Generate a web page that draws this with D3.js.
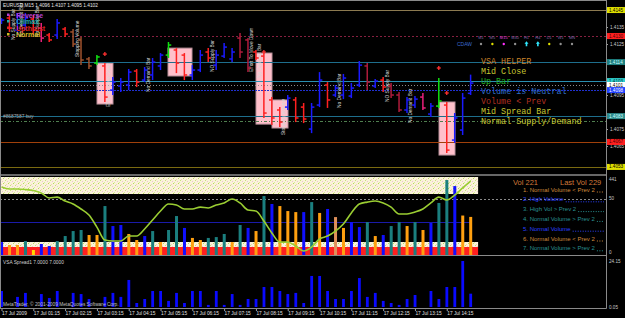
<!DOCTYPE html>
<html>
<head>
<meta charset="utf-8">
<script src="https://cdn.jsdelivr.net/npm/d3@7"></script>
<style>
  body { margin: 0; background: #000; }
  svg { display: block; }
  text { font-family: "Liberation Sans", Arial, sans-serif; }
</style>
</head>
<body>
<div id="my_chart"></div>
<script>

// EURUSD M15 price bars, 17 Jul 2009 (60 bars)
var barOpen = [1.41379,1.41403,1.41332,1.41362,1.41397,1.41344,1.41303,1.41303,1.41338,1.41321,
  1.41274,1.41162,1.41138,1.41121,1.40979,1.41003,1.41009,1.41091,1.41038,1.41068,
  1.41121,1.41185,1.41215,1.41185,1.41068,1.41097,1.41203,1.41126,1.41179,1.41162,
  1.41285,1.41274,1.41203,1.41179,1.40921,1.40862,1.40879,1.40921,1.40879,1.40750,
  1.40891,1.41009,1.40950,1.40950,1.40944,1.41009,1.41121,1.41003,1.41038,1.41003,
  1.40950,1.40862,1.40891,1.40938,1.40838,1.40885,1.40891,1.40685,1.40744,1.40960];
var barHigh = [1.41403,1.41421,1.41432,1.41432,1.41421,1.41374,1.41315,1.41397,1.41350,1.41338,
  1.41291,1.41174,1.41185,1.41138,1.41056,1.41050,1.41103,1.41103,1.41115,1.41168,
  1.41197,1.41262,1.41226,1.41197,1.41126,1.41215,1.41226,1.41215,1.41256,1.41226,
  1.41315,1.41285,1.41215,1.41197,1.40938,1.40879,1.40950,1.40938,1.40903,1.40903,
  1.41085,1.41026,1.41009,1.41074,1.41021,1.41150,1.41138,1.41044,1.41056,1.41021,
  1.40968,1.40938,1.40944,1.40962,1.40903,1.41050,1.40909,1.40844,1.40962,1.41070];
var barLow = [1.41368,1.41321,1.41303,1.41332,1.41303,1.41262,1.41262,1.41279,1.41291,1.41232,
  1.41126,1.41103,1.41126,1.40909,1.40950,1.40968,1.40979,1.40997,1.41026,1.41038,
  1.41097,1.41168,1.41079,1.41038,1.41038,1.41085,1.41144,1.41097,1.41168,1.41144,
  1.41168,1.41085,1.41156,1.40815,1.40774,1.40762,1.40862,1.40791,1.40785,1.40726,
  1.40879,1.40874,1.40938,1.40926,1.40932,1.40997,1.40979,1.40991,1.40968,1.40932,
  1.40850,1.40844,1.40874,1.40862,1.40821,1.40874,1.40609,1.40668,1.40715,1.40950];
var barClose = [1.41391,1.41344,1.41415,1.41403,1.41332,1.41285,1.41274,1.41374,1.41309,1.41250,
  1.41156,1.41121,1.41174,1.40938,1.41026,1.41026,1.41085,1.41026,1.41097,1.41144,
  1.41185,1.41244,1.41138,1.41068,1.41097,1.41185,1.41168,1.41185,1.41232,1.41203,
  1.41203,1.41109,1.41168,1.40844,1.40815,1.40791,1.40932,1.40815,1.40809,1.40879,
  1.41038,1.40921,1.40991,1.41050,1.40991,1.41126,1.41026,1.41032,1.40997,1.40950,
  1.40862,1.40921,1.40926,1.40874,1.40885,1.40915,1.40626,1.40815,1.40932,1.41020];
var barKind = ["up","dn","up","up","dn","mg","dn","up","dn","br",
  "br","br","gr","dn","up","up","up","dn","up","up",
  "up","gr","dn","dn","up","up","dn","up","up","up",
  "dr","dr","dn","dn","dn","dn","up","dn","dn","up",
  "up","dn","up","up","up","up","dr","up","dn","dr",
  "dr","up","up","mg","up","gr","dn","up","up","up"];

// tick volume and its class
var volume = [75,58,58,81,29,64,52,81,110,139,
  145,116,116,284,168,174,122,87,110,139,
  75,145,226,157,99,87,99,104,122,75,
  174,157,139,342,296,284,255,249,249,307,
  244,267,220,157,191,162,191,110,116,168,
  191,168,191,145,186,302,435,400,229,221];
var volKind = ["nv","lo","lo","hi","yl","nv","nv","hi","hi","hi",
  "hi","lo","lo","hi","nv","nv","lo","lo","nv","hi",
  "lo","hi","hi","nv","lo","lo","hi","hi","hi","lo",
  "hi","nv","lo","hi","nv","lo","lo","lo","nv","hi",
  "lo","nv","pe","lo","nv","nv","hi","lo","nv","hi",
  "hi","lo","hi","lo","nv","hi","hi","nv","lo","lo"];
// smoothed oscillator drawn over the volume pane (pane units)
var volLine = [394,383,383,380,374,360,331,336,313,296,
  267,232,162,87,81,81,110,110,151,203,
  255,296,290,267,267,278,273,290,302,325,
  302,261,255,197,128,75,75,52,23,46,
  93,110,139,180,244,296,307,313,302,278,
  238,238,249,267,302,336,319,348,389,429];
var volAverage = 191, volLevel = 325;

// VSA spread (pips)
var spread = [8.4,0,5.3,7.4,0,6.8,4.7,8.4,0,7.4,
  6.8,4.2,0,5.3,7.4,5.3,14.2,2.1,4.2,8.4,
  8.4,3.2,7.4,2.1,8.4,8.4,1.1,8.4,1.1,6.8,
  1.1,4.2,4.2,10.5,10.5,8.4,6.8,7.4,2.1,16.3,
  16.3,8.4,4.2,4.2,8.4,15.2,5.3,7.4,3.2,2.1,
  1.1,4.2,6.3,0,8.4,4.2,10.5,10.5,24.15,7.0];

// horizontal levels on the price pane
var levelPrice = [1.41450, 1.41297, 1.41144, 1.41032, 1.41009, 1.40979, 1.40826, 1.40797, 1.40674, 1.40527];
var levelKind = ["tan","res","teal","cyan","bid","blue","teal2","order","orange","olive"];

// signal boxes (bar range, price top / bottom)
var boxStart = [13, 22, 33, 35, 56];
var boxEnd = [13, 23, 33, 35, 56];
var boxTop = [1.41138, 1.41226, 1.41197, 1.40921, 1.40909];
var boxBottom = [1.40897, 1.41062, 1.40779, 1.40756, 1.40597];

// vertical bar notes
var noteBar = [1, 2, 4, 9, 13, 18, 26, 31, 32, 35, 42, 48, 51];
var notePrice = [1.41274, 1.41291, 1.41291, 1.41174, 1.40879, 1.40968, 1.41085, 1.41085, 1.41050, 1.40715, 1.40874, 1.40909, 1.40785];
var noteText = ["No Supply Bar","No Demand Bar","No Supply Bar","Stopping Volume","Effort To Move Down",
  "No Demand Bar","NO Supply Bar","Effort To Move Down","No Demand Bar","Stopping Volume",
  "No Demand Bar","NO Supply Bar","No Demand Bar"];

// red cross markers
var markBar = [13, 33, 55, 56];
var markPrice = [1.41191, 1.41203, 1.41109, 1.40962];

var legendNames = ["Reverse", "Climax", "Upthrust", "Normal"];
var helperLines = ["VSA HELPER", "Mid Close", "Up Bar", "Volume is Neutral", "Volume < Prev", "Mid Spread Bar", "Normal Supply/Demand"];
var periods = ["M1","M5","M15","M30","H1","H4","D1","W1","MN"];
var periodState = ["flat","up","dn","flat","strong","strong","up","flat","flat"];
var volNotes = ["1. Normal Volume < Prev 2", "2. High Volume", "3. High Vol > Prev 2",
  "4. Normal Volume > Prev 2", "5. Normal Volume", "6. Normal Volume < Prev 2", "7. Normal Volume > Prev 2"];
var volNoteKind = ["lo","nv","hi","hi","nv","lo","hi"];
var priceTicks = [1.4135, 1.4125, 1.4095, 1.4075, 1.4065];
var timeBars = [0,4,8,12,16,20,24,28,32,36,40,44,48,52,56];
var timeLabels = ["17 Jul 2009","17 Jul 01:15","17 Jul 02:15","17 Jul 03:15","17 Jul 04:15",
  "17 Jul 05:15","17 Jul 06:15","17 Jul 07:15","17 Jul 08:15","17 Jul 09:15",
  "17 Jul 10:15","17 Jul 11:15","17 Jul 12:15","17 Jul 13:15","17 Jul 14:15"];

// styles
var barColor = {up:"#1a1aff", dn:"#ff2020", br:"#a0522d", dr:"#b01c3c", mg:"#e8207a", gr:"#10e010"};
var volColor = {hi:"#1b7f7f", nv:"#1010ff", lo:"#ffa010", yl:"#ffd700", pe:"#e0905a"};
var noteColor = {hi:"#2a9090", nv:"#2a40ff", lo:"#d08a3c"};
var levelStyle = {
  tan:   {stroke:"#8c7a50", dash:null,      box:"#e0e000", ink:"#000"},
  res:   {stroke:"#862040", dash:"2,2",     box:"#ff2020", ink:"#400"},
  teal:  {stroke:"#1e6e8c", dash:null,      box:"#1f8080", ink:"#cff"},
  cyan:  {stroke:"#2a8fb0", dash:null,      box:"#30d0d0", ink:"#033"},
  bid:   {stroke:"#8a8a8a", dash:"1,2",     box:"#ffffff", ink:"#000"},
  blue:  {stroke:"#2030d0", dash:"2,1",     box:"#2040ff", ink:"#fff"},
  teal2: {stroke:"#1e6e8c", dash:null,      box:"#2e8b8b", ink:"#cff"},
  order: {stroke:"#4f7f4f", dash:"3,2,1,2", box:null,      ink:null},
  orange:{stroke:"#a0400a", dash:null,      box:"#ff2020", ink:"#400"},
  olive: {stroke:"#7a6a10", dash:null,      box:"#e0e000", ink:"#000"}
};
var legendColor = ["#b040d0", "#20a8a8", "#e02020", "#d0b820"];
var helperColor = ["#c8822a", "#c8c832", "#20b020", "#3070c8", "#b03020", "#c8c832", "#c8c832"];

var width = 625, height = 318, plotRight = 606;

var x = d3.scaleLinear().domain([0, 59]).range([1.5, 470.6]);
var yPrice = d3.scaleLinear().domain([1.41509, 1.40509]).range([0, 170]);
var yVol = d3.scaleLinear().domain([0, 441]).range([255, 179]);
var ySpread = d3.scaleLinear().domain([0, 24.15]).range([307, 261]);
var fmt4 = d3.format(".4f");

var svg = d3.select("#my_chart")
  .append("svg")
    .attr("width", width)
    .attr("height", height);

svg.append("rect").attr("width", width).attr("height", height).attr("fill", "#000");

// speckled band fill
var pat = svg.append("defs").append("pattern")
  .attr("id", "speck").attr("width", 5).attr("height", 5)
  .attr("patternUnits", "userSpaceOnUse");
pat.append("rect").attr("width", 5).attr("height", 5).attr("fill", "#fbf2dc");
[[0,0,"#c6e47a"],[2,1,"#e9cdc8"],[3,3,"#b9dc5a"],[1,4,"#f0d8b0"],[4,2,"#d8ec98"]].forEach(function(p) {
  pat.append("rect").attr("x", p[0]).attr("y", p[1]).attr("width", 1).attr("height", 1).attr("fill", p[2]);
});

// ---------- price pane ----------
var pricePane = svg.append("g");

pricePane.selectAll(".box")
  .data(boxStart)
  .enter()
  .append("rect")
    .attr("x", function(d) { return Math.round(x(d)) - 8; })
    .attr("width", function(d, i) { return Math.round(x(boxEnd[i])) - Math.round(x(d)) + 16; })
    .attr("y", function(d, i) { return yPrice(boxTop[i]); })
    .attr("height", function(d, i) { return yPrice(boxBottom[i]) - yPrice(boxTop[i]); })
    .attr("fill", "#ffc0cb")
    .attr("stroke", "#b8909a")
    .attr("stroke-width", 1);

pricePane.selectAll(".level")
  .data(levelPrice)
  .enter()
  .append("line")
    .attr("x1", 0)
    .attr("x2", plotRight)
    .attr("y1", function(d) { return Math.round(yPrice(d)) + 0.5; })
    .attr("y2", function(d) { return Math.round(yPrice(d)) + 0.5; })
    .attr("stroke", function(d, i) { return levelStyle[levelKind[i]].stroke; })
    .attr("stroke-dasharray", function(d, i) { return levelStyle[levelKind[i]].dash; });

// order label
pricePane.append("text")
  .attr("x", 3).attr("y", yPrice(levelPrice[7]) - 3)
  .style("font-size", "4.8px").attr("fill", "#a8a8a8")
  .text("#8687587 buy");

// vertical notes
pricePane.selectAll(".note")
  .data(noteBar)
  .enter()
  .append("text")
    .attr("transform", function(d, i) { return "translate(" + (x(d) + 4) + "," + yPrice(notePrice[i]) + ") rotate(-90)"; })
    .attr("dominant-baseline", "central")
    .style("font-size", "4.8px")
    .attr("fill", "#d8d8d8")
    .text(function(d, i) { return noteText[i]; });

// ohlc bars
var bars = pricePane.selectAll(".bar")
  .data(barOpen)
  .enter()
  .append("g")
    .attr("stroke", function(d, i) { return barColor[barKind[i]]; })
    .attr("stroke-width", 1.5);
bars.append("line")
  .attr("x1", function(d, i) { return x(i); })
  .attr("x2", function(d, i) { return x(i); })
  .attr("y1", function(d, i) { return yPrice(barHigh[i]); })
  .attr("y2", function(d, i) { return yPrice(barLow[i]); });
bars.append("line")
  .attr("x1", function(d, i) { return x(i) - 2.8; })
  .attr("x2", function(d, i) { return x(i); })
  .attr("y1", function(d) { return yPrice(d); })
  .attr("y2", function(d) { return yPrice(d); });
bars.append("line")
  .attr("x1", function(d, i) { return x(i); })
  .attr("x2", function(d, i) { return x(i) + 2.8; })
  .attr("y1", function(d, i) { return yPrice(barClose[i]); })
  .attr("y2", function(d, i) { return yPrice(barClose[i]); });

// cross markers
var marks = pricePane.selectAll(".mark")
  .data(markBar)
  .enter()
  .append("g")
    .attr("transform", function(d, i) { return "translate(" + x(d) + "," + yPrice(markPrice[i]) + ")"; })
    .attr("stroke", "#ff3030")
    .attr("stroke-width", 1.3);
marks.append("line").attr("x1", -2).attr("x2", 2);
marks.append("line").attr("y1", -2).attr("y2", 2);

// header
pricePane.append("text")
  .attr("x", 3).attr("y", 7)
  .style("font-size", "4.8px").attr("fill", "#e8e8e8")
  .text("EURUSD,M15  " + fmt4(barOpen[59]) + " " + fmt4(barHigh[59]) + " " + fmt4(barLow[59]) + " " + fmt4(barClose[59]));

// legend
legendNames.forEach(function(name, i) {
  var ly = 15 + i * 6.5;
  pricePane.append("rect").attr("x", 7).attr("y", ly - 1.5).attr("width", 2.5).attr("height", 2.5).attr("fill", legendColor[i]);
  pricePane.append("text").attr("x", 16).attr("y", ly + 2.5)
    .style("font-size", "7px").style("font-weight", "bold")
    .attr("fill", legendColor[i]).text(name);
});

// VSA helper block
pricePane.selectAll(".helper")
  .data(helperLines)
  .enter()
  .append("text")
    .attr("x", 481)
    .attr("y", function(d, i) { return 64 + i * 10; })
    .style("font-family", "'Liberation Mono', 'Courier New', monospace")
    .style("font-size", "8.4px")
    .attr("fill", function(d, i) { return helperColor[i]; })
    .text(function(d) { return d; });

// multi-timeframe table
var px = d3.scalePoint().domain(periods).range([481, 572]);
pricePane.append("text").attr("x", 457).attr("y", 45.8)
  .style("font-size", "5px").attr("fill", "#3a6ad0").text("CDAW");
pricePane.selectAll(".period")
  .data(periods)
  .enter()
  .append("text")
    .attr("x", function(d) { return px(d); })
    .attr("y", 38.5)
    .attr("text-anchor", "middle")
    .style("font-size", "4px")
    .attr("fill", function(d, i) { return periodState[i] === "dn" ? "#e040e0" : "#7a68a8"; })
    .text(function(d) { return d; });
periods.forEach(function(p, i) {
  var cx = px(p), st = periodState[i];
  if (st === "strong") {
    pricePane.append("path")
      .attr("d", "M" + cx + ",41.3 L" + (cx - 2) + ",43.8 L" + (cx - 0.8) + ",43.8 L" + (cx - 0.8) + ",46.3 L" + (cx + 0.8) + ",46.3 L" + (cx + 0.8) + ",43.8 L" + (cx + 2) + ",43.8 Z")
      .attr("fill", "#30e8ff");
  } else {
    pricePane.append("circle").attr("cx", cx).attr("cy", 44).attr("r", 1.2)
      .attr("fill", st === "up" ? "#e0e000" : st === "dn" ? "#ff30ff" : "#909090");
  }
});

// right price axis
var priceAxis = svg.append("g")
  .attr("transform", "translate(" + plotRight + ",0)")
  .call(d3.axisRight(yPrice).tickValues(priceTicks).tickSize(2).tickFormat(fmt4));
priceAxis.select(".domain").remove();
priceAxis.selectAll("line").attr("stroke", "#a0a0a0");
priceAxis.selectAll("text").attr("x", 4).style("font-size", "4.6px").attr("fill", "#c8c8c8");

// level price boxes
levelPrice.forEach(function(p, i) {
  var st = levelStyle[levelKind[i]];
  if (!st.box) return;
  var yy = yPrice(p);
  svg.append("rect").attr("x", plotRight + 1).attr("y", yy - 3).attr("width", 18).attr("height", 6).attr("fill", st.box);
  svg.append("text").attr("x", plotRight + 3).attr("y", yy).attr("dominant-baseline", "central")
    .style("font-size", "4.6px").attr("fill", st.ink).text(fmt4(p));
});

// ---------- volume pane ----------
var volPane = svg.append("g");
var bandRight = x(59) + 7.5;

volPane.append("rect").attr("x", 1).attr("y", 177).attr("width", bandRight - 1).attr("height", 17).attr("fill", "url(#speck)");
volPane.append("rect").attr("x", 1).attr("y", 242).attr("width", bandRight - 1).attr("height", 5).attr("fill", "url(#speck)");
volPane.append("rect").attr("x", 1).attr("y", 247).attr("width", bandRight - 1).attr("height", 8).attr("fill", "#ff2020");

volPane.append("line")
  .attr("x1", 0).attr("x2", plotRight)
  .attr("y1", Math.round(yVol(volLevel)) + 0.5).attr("y2", Math.round(yVol(volLevel)) + 0.5)
  .attr("stroke", "#8a8a8a").attr("stroke-dasharray", "2,2");
volPane.append("line")
  .attr("x1", 0).attr("x2", x(59))
  .attr("y1", Math.round(yVol(volAverage)) + 0.5).attr("y2", Math.round(yVol(volAverage)) + 0.5)
  .attr("stroke", "#1a1aa8");

volPane.selectAll(".vbar")
  .data(volume)
  .enter()
  .append("rect")
    .attr("x", function(d, i) { return x(i) - 1.4; })
    .attr("width", 3)
    .attr("y", function(d) { return yVol(d); })
    .attr("height", function(d) { return yVol(0) - yVol(d); })
    .attr("fill", function(d, i) { return volColor[volKind[i]]; });

volPane.append("path")
  .datum(volLine)
  .attr("fill", "none")
  .attr("stroke", "#9acd32")
  .attr("stroke-width", 1.6)
  .attr("d", d3.line()
    .x(function(d, i) { return x(i); })
    .y(function(d) { return yVol(d); })
    .curve(d3.curveMonotoneX));

// volume read-out
volPane.append("text").attr("x", 513).attr("y", 184.5)
  .style("font-size", "7.5px").attr("fill", "#d07a3a").text("Vol  " + volume[59]);
volPane.append("text").attr("x", 560).attr("y", 184.5)
  .style("font-size", "7.5px").attr("fill", "#d07a3a").text("Last Vol  " + volume[58]);

volNotes.forEach(function(t, i) {
  var ty = 191.5 + i * 9.8;
  var tx = volPane.append("text").attr("x", 523).attr("y", ty)
    .style("font-size", "6px").attr("fill", noteColor[volNoteKind[i]]).text(t);
  var w = tx.node().getComputedTextLength();
  volPane.append("line")
    .attr("x1", 523 + w + 2).attr("x2", 604)
    .attr("y1", ty + 0.5).attr("y2", ty + 0.5)
    .attr("stroke", noteColor[volNoteKind[i]]).attr("stroke-dasharray", "1,1.5");
});

// volume axis
var volAxisLabels = ["441", "50", "0"];
[441, volLevel, 0].forEach(function(v, i) {
  svg.append("text").attr("x", plotRight + 3).attr("y", Math.min(yVol(v), 252.5)).attr("dominant-baseline", "central")
    .style("font-size", "4.6px").attr("fill", "#c8c8c8").text(volAxisLabels[i]);
});

// ---------- spread pane ----------
var spreadPane = svg.append("g");
spreadPane.selectAll(".sbar")
  .data(spread)
  .enter()
  .append("rect")
    .attr("x", function(d, i) { return x(i) - 1.3; })
    .attr("width", 2.8)
    .attr("y", function(d) { return ySpread(d); })
    .attr("height", function(d) { return ySpread(0) - ySpread(d); })
    .attr("fill", "#0a0aff");

spreadPane.append("text").attr("x", 3).attr("y", 264)
  .style("font-size", "4.8px").attr("fill", "#d0d0d0")
  .text("VSA Spread1 " + spread[59].toFixed(4) + " " + spread[59].toFixed(4));
spreadPane.append("text").attr("x", 3).attr("y", 305.5)
  .style("font-size", "4.8px").attr("fill", "#c0c0c0")
  .text("MetaTrader, \u00a9 2001-2009 MetaQuotes Software Corp.");

var spreadAxis = svg.append("g")
  .attr("transform", "translate(" + plotRight + ",0)")
  .call(d3.axisRight(ySpread).tickValues([24.15, 0.05]).tickSize(0).tickFormat(d3.format(".2f")));
spreadAxis.select(".domain").remove();
spreadAxis.selectAll("text").attr("x", 3).style("font-size", "4.6px").attr("fill", "#c8c8c8");

// ---------- time axis ----------
var timeAxis = svg.append("g")
  .attr("transform", "translate(0,308)")
  .call(d3.axisBottom(x).tickValues(timeBars).tickSize(3)
    .tickFormat(function(d, i) { return timeLabels[i]; }));
timeAxis.select(".domain").remove();
timeAxis.selectAll("line").attr("stroke", "#a0a0a0");
timeAxis.selectAll("text")
  .attr("y", 3.5)
  .attr("text-anchor", "start")
  .style("font-size", "4.8px")
  .attr("fill", "#e0e0e0");

// frame and separators
var frame = svg.append("g").attr("stroke", "#8a8a8a").attr("fill", "none");
frame.append("line").attr("x1", 0).attr("x2", plotRight + 0.5).attr("y1", 0.5).attr("y2", 0.5);
frame.append("line").attr("x1", 0.5).attr("x2", 0.5).attr("y1", 0).attr("y2", 308.5);
frame.append("line").attr("x1", plotRight + 0.5).attr("x2", plotRight + 0.5).attr("y1", 0).attr("y2", 308.5);
frame.append("line").attr("x1", 0).attr("x2", plotRight + 0.5).attr("y1", 175).attr("y2", 175).attr("stroke-width", 1.6);
frame.append("line").attr("x1", 0).attr("x2", plotRight + 0.5).attr("y1", 255.5).attr("y2", 255.5);
frame.append("line").attr("x1", 0).attr("x2", plotRight + 0.5).attr("y1", 308.5).attr("y2", 308.5);

</script>
</body>
</html>
